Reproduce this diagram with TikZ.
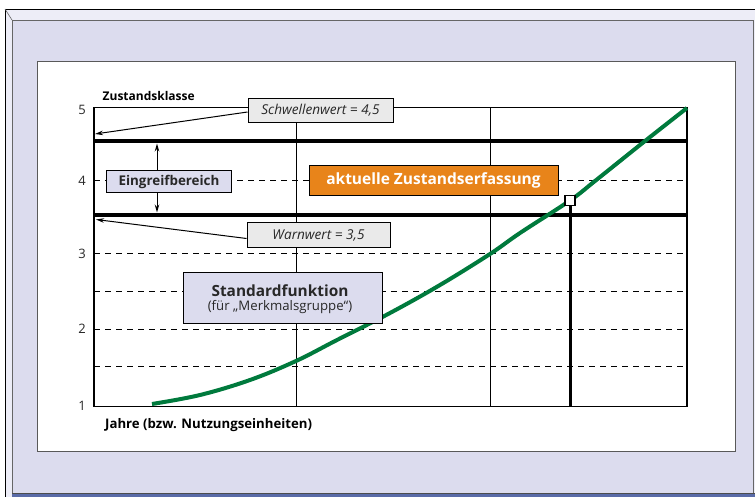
\documentclass[tikz,border=0pt]{standalone}
\usepackage{fontspec}
\setmainfont{Open Sans}
\usetikzlibrary{arrows.meta}
\definecolor{lav}{RGB}{220,220,238}
\definecolor{lavlight}{RGB}{237,237,247}
\definecolor{barblue}{RGB}{90,107,168}
\definecolor{boxgray}{RGB}{234,234,234}
\definecolor{orng}{RGB}{232,132,26}
\definecolor{grn}{RGB}{0,122,61}
\definecolor{txt}{RGB}{40,40,40}
\tikzset{
  lbl/.style={draw=black, line width=1pt, inner sep=0pt, text=txt},
  graybox/.style={lbl, fill=boxgray, font=\itshape\fontsize{13.6}{16}\selectfont},
  lavbox/.style={lbl, fill=lav},
  orangebox/.style={lbl, fill=orng, text=white, font=\bfseries\fontsize{15.5}{18}\selectfont},
  ticklbl/.style={anchor=east, text=txt, font=\fontsize{13}{15}\selectfont, inner sep=0pt},
  plain/.style={inner sep=0pt, text=txt},
  grid/.style={line width=0.8pt},
  dashline/.style={line width=0.9pt, dash pattern=on 6pt off 5pt},
  thickline/.style={line width=4pt},
  pointer/.style={line width=1pt, -{Stealth[length=8pt,width=4.5pt]}},
}
\begin{document}
\begin{tikzpicture}[x=1pt,y=-1pt]
\useasboundingbox (0,0) rectangle (755,497);
% frame
\fill[lavlight] (5,9) rectangle (755,497);
\draw[line width=0.8pt] (5,497) -- (5,9) -- (755,9);
\fill[lav] (12,20) rectangle (753,493);
\draw[line width=0.8pt, black!60] (12,493) -- (12,20) -- (753,20) -- (753,493);
\draw[line width=0.6pt, black!60] (5,9) -- (12,20);
\fill[barblue] (12,493) rectangle (755,497);
\draw[line width=0.8pt, black!70] (12,493) -- (755,493);
\filldraw[fill=white, draw=black!65, line width=1pt] (37,62) rectangle (735,451);
% grid levels
\foreach \y in {366.7,329,291,253.3,180.7}
  \draw[dashline] (94,\y) -- (687,\y);
\draw[grid] (296,107.7) -- (296,406.7);
\draw[grid] (490,107.7) -- (490,406.7);
\draw[line width=1.2pt] (94,107.7) rectangle (687,406.7);
\draw[thickline] (94,140.7) -- (687,140.7);
\draw[thickline] (94,215) -- (687,215);
% tick labels
\node[ticklbl] (t5) at (86,110) {5};
\node[ticklbl] (t4) at (86,181) {4};
\node[ticklbl] (t3) at (86,253.5) {3};
\node[ticklbl] (t2) at (86,329) {2};
\node[ticklbl] (t1) at (86,406) {1};
\node[anchor=base west, inner sep=0pt, font=\bfseries\fontsize{12}{14}\selectfont, text=black] (ztk) at (102.5,100.5) {Zustandsklasse};
\node[anchor=west, inner sep=0pt, font=\bfseries\fontsize{13.2}{15}\selectfont, text=black] (jahre) at (105,425) {Jahre (bzw. Nutzungseinheiten)};
% current state
\node[draw=black, fill=white, line width=1.4pt, minimum size=10pt, inner sep=0pt] (sq) at (570,200.5) {};
\coordinate (sqfoot) at (570,406.7);
\draw[line width=3pt] (sq.south) -- (sqfoot);
% curve
\draw[grn, line width=4pt, line cap=butt] plot[smooth, tension=0.6] coordinates {
 (152,404) (200,395) (250,380) (296,361) (337,340) (390,313) (440,285) (490,254) (520,233) (570,200.5) (595,181) (645,141) (687,108)};
\node[draw=black, fill=white, line width=1.4pt, minimum size=10pt, inner sep=0pt] (sqtop) at (570,200.5) {};
% boxes
\node[graybox, minimum width=145pt, minimum height=24.5pt] (schw) at (320.5,110.5) {Schwellenwert = 4,5};
\node[graybox, minimum width=143pt, minimum height=25pt] (warn) at (318.5,235.5) {Warnwert = 3,5};
\node[lavbox, font=\bfseries\fontsize{13.4}{16}\selectfont, minimum width=125pt, minimum height=22pt] (ein) at (169,181.7) {Eingreifbereich};
\node[orangebox, minimum width=249pt, minimum height=30pt] (akt) at (433.5,180.7) {aktuelle Zustandserfassung};
\node[lavbox, minimum width=199pt, minimum height=50.5pt] (std) at (282.5,298) {};
\node[plain, font=\bfseries\fontsize{15.4}{18}\selectfont] (stdA) at (280,290.5) {Standardfunktion};
\node[plain, font=\fontsize{13.2}{15}\selectfont] (stdB) at (280,307.5) {(für „Merkmalsgruppe“)};
% pointers
\coordinate (p45) at (95,134);
\coordinate (p35) at (96,219.5);
\draw[pointer] (schw.west) ++(0,1.5) -- (p45);
\draw[pointer] (warn.west) ++(0,3) -- (p35);
\coordinate (up) at (157,143.5);
\coordinate (dn) at (157,212.5);
\draw[pointer] (ein.north -| up) -- (up);
\draw[pointer] (ein.south -| dn) -- (dn);
\end{tikzpicture}
\end{document}
